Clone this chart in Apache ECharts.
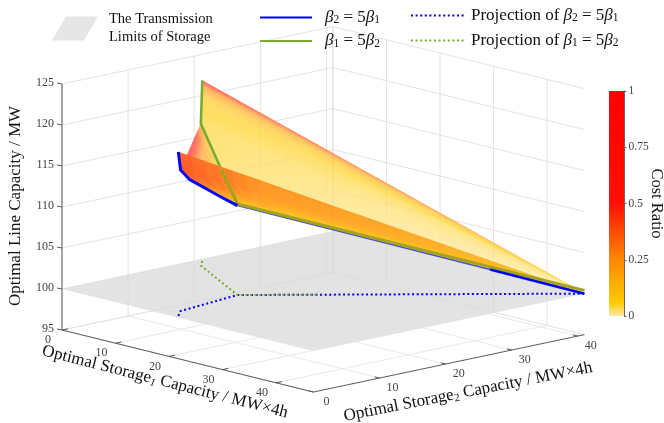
<!DOCTYPE html>
<html><head><meta charset="utf-8">
<style>html,body{margin:0;padding:0;background:#fff}#c{width:664px;height:423px}</style>
<script src="https://cdn.jsdelivr.net/npm/echarts@6/dist/echarts.min.js"></script>
</head><body><div id="c"></div>
<script>
// ---------- data (Storage1 MW·4h, Storage2 MW·4h, Line capacity MW) ----------
const s1Ticks=[0,10,20,30,40], s2Ticks=[0,10,20,30,40], zTicks=[95,100,105,110,115,120,125];
const s1Max=47, s2Max=41, planeZ=100, zMin=95, zMax=125;
const costTicks=[0,0.25,0.5,0.75,1];
const colormap=[[0,'#ffe9a8'],[0.06,'#ffcb00'],[0.25,'#ff8800'],[0.38,'#ff4a00'],[0.5,'#ff1000'],[1,'#ff0000']];

const bluePath=[[21.05,0.56,120],[19.2,2.4,117.2],[18.94,4.0,115.7],[18.57,6.3,114.35],[18.1,9.2,112.66],[17.6,12.3,110.9]];
const blueMiddle=[[17.6,12.3,110.9],[39,33.2,103]];
const blueEnd=[[39,33.2,103],[47,41,100]];
const greenPath=[[0.7,20.66,122],[2.48,19,117.3],[10.95,15.25,113.7]];
const greenHidden=[[10.95,15.25,113.7],[17.6,12.3,111.1],[47,41,100.4]];
const blueProj=[[21.05,0.56],[19.2,2.4],[17.6,12.3],[47,41]];
const greenProj=[[0.7,20.66],[2.48,19],[17.6,12.3],[24.4,19.0]];

const surfaceStations=[0,0.2,0.5,0.8,1];
const upperBase=[[0.7,20.66,122],[0.91,20.46,121.44],[1.23,20.16,120.59],[1.59,19.83,119.65],[2.48,19,117.3],[10.04,15.65,114.1],[17.6,12.3,110.9]];
const upperCost=[[.55,.45,.35,.25,.13],[.28,.22,.17,.12,.07],[.12,.1,.09,.07,.04],[.07,.06,.05,.04,.03],[.05,.04,.03,.025,.02],[.04,.03,.02,.015,.01],[.03,.02,.012,.01,.005]];
const middleBase=[[2.48,19,117.3],[6.66,14.85,117.28],[10.84,10.7,117.25],[19.2,2.4,117.2]];
const middleCost=[[.2,.1,.06,.05,.03],[.5,.22,.1,.06,.03],[.6,.25,.12,.06,.03],[.6,.3,.14,.07,.03]];
const lowerBase=[[21.05,0.56,120],[19.2,2.4,117.2],[18.94,4.0,115.7],[18.57,6.3,114.35],[18.1,9.2,112.66],[17.6,12.3,110.9]];
const lowerCost=[[.38,.27,.22,.16,.07],[.42,.25,.2,.14,.06],[.37,.21,.17,.12,.05],[.28,.17,.14,.1,.045],[.18,.12,.1,.08,.04],[.06,.06,.05,.04,.02]];
const surfaceTip=[47,41,100];
const middleTip=[17.6,12.3,110.9];

// ---------- fixed 3-D view of the chart box ----------
const view={x0:62,y0:330,s1x:5.35,s1y:1.32,s2x:6.61,s2y:-1.40,zy:8.2};
function project(p){
  const z=p.length>2?p[2]:planeZ;
  return [view.x0+view.s1x*p[0]+view.s2x*p[1], view.y0+view.s1y*p[0]+view.s2y*p[1]-view.zy*(z-zMin)];
}
function hex(c){return [1,3,5].map(k=>parseInt(c.substr(k,2),16));}
function costColor(c,alpha){
  let a=colormap[0],b=colormap[colormap.length-1];
  for(let k=0;k<colormap.length-1;k++){if(c>=colormap[k][0]&&c<=colormap[k+1][0]){a=colormap[k];b=colormap[k+1];break;}}
  const f=(c-a[0])/((b[0]-a[0])||1),A=hex(a[1]),B=hex(b[1]);
  const m=A.map((v,k)=>Math.round((v+(B[k]-v)*f)*alpha+255*(1-alpha)));
  return 'rgb('+m.join(',')+')';
}
const FONT='"Liberation Serif","Times New Roman",serif';
const GRID='#eaeaea', AXIS='#5a5a5a', TICKTXT='#444';

function surfaceSeries(name,base,cost,tip,alpha,z){
  const cells=[];
  for(let i=0;i<base.length-1;i++)for(let j=0;j<surfaceStations.length-1;j++)cells.push([i,j]);
  const N=6;
  return {type:'custom',name:name,coordinateSystem:'cartesian2d',z:z,silent:true,animation:false,clip:false,data:cells,
    renderItem(params,api){
      const i=api.value(0),j=api.value(1);
      const t0=surfaceStations[j],t1=surfaceStations[j+1];
      const a=project(base[i]),b=project(base[i+1]),e=project(tip);
      const pt=(u,v)=>{const t=t0+(t1-t0)*v;
        const x=(a[0]+(b[0]-a[0])*u),y=(a[1]+(b[1]-a[1])*u);
        return api.coord([x+(e[0]-x)*t,y+(e[1]-y)*t]);};
      const cv=(u,v)=>{const c0=cost[i][j]+(cost[i+1][j]-cost[i][j])*u,c1=cost[i][j+1]+(cost[i+1][j+1]-cost[i][j+1])*u;return c0+(c1-c0)*v;};
      const ch=[];
      for(let m=0;m<N;m++)for(let n=0;n<N;n++){
        const col=costColor(cv((m+.5)/N,(n+.5)/N),alpha);
        ch.push({type:'polygon',shape:{points:[pt(m/N,n/N),pt((m+1)/N,n/N),pt((m+1)/N,(n+1)/N),pt(m/N,(n+1)/N)]},style:{fill:col,stroke:col,lineWidth:0.6}});
      }
      return {type:'group',children:ch};
    }};
}
function lineSeries(name,pts,color,width,type,z){
  return {type:'line',name:name,coordinateSystem:'cartesian2d',data:pts.map(project),symbol:'none',smooth:false,animation:false,silent:true,clip:false,z:z,
    itemStyle:{color:color},lineStyle:{color:color,width:width,type:type,cap:'butt',join:'round'}};
}
function seg(api,p,q,color,w){
  const A=api.coord(p),B=api.coord(q);
  return {type:'line',shape:{x1:A[0],y1:A[1],x2:B[0],y2:B[1]},style:{stroke:color,lineWidth:w}};
}
function label(x,y,text,align){
  return {type:'text',x:x,y:y,style:{text:text,fontFamily:FONT,fontSize:12,fill:TICKTXT,align:align||'center',verticalAlign:'middle'}};
}
function wallLines(api,color){
  const ch=[],g=(a,b)=>ch.push(seg(api,project(a),project(b),color,1));
  zTicks.forEach(z=>{g([0,0,z],[0,s2Max,z]);g([0,s2Max,z],[s1Max,s2Max,z]);});
  s2Ticks.forEach(s=>g([0,s,zMin],[0,s,zMax]));
  s1Ticks.forEach(s=>g([s,s2Max,zMin],[s,s2Max,zMax]));
  g([0,s2Max,zMin],[0,s2Max,zMax]);
  return ch;
}
const BLACK='#111';
const boxSeries={type:'custom',name:'box',coordinateSystem:'cartesian2d',z:0,silent:true,animation:false,clip:false,data:[[0,0]],
  renderItem(params,api){
    const ch=wallLines(api,GRID),P=p=>project(p);
    const g=(a,b)=>ch.push(seg(api,P(a),P(b),GRID,1));
    s2Ticks.forEach(s=>g([0,s,zMin],[s1Max,s,zMin]));
    s1Ticks.forEach(s=>g([s,0,zMin],[s,s2Max,zMin]));
    // plane of the transmission limits
    ch.push({type:'polygon',shape:{points:[[0,0],[s1Max,0],[s1Max,s2Max],[0,s2Max]].map(p=>api.coord(P([p[0],p[1],planeZ])))},style:{fill:'#e2e2e2',opacity:0.95}});
    // axes
    ch.push(seg(api,P([0,0,zMin]),P([0,0,zMax]),AXIS,1));
    ch.push(seg(api,P([0,0,zMin]),P([s1Max,0,zMin]),AXIS,1));
    ch.push(seg(api,P([s1Max,0,zMin]),P([s1Max,s2Max,zMin]),AXIS,1));
    zTicks.forEach(z=>{const a=P([0,0,z]);ch.push(seg(api,a,[a[0]-5,a[1]-1],AXIS,1));
      const c=api.coord(a);ch.push(label(c[0]-8,c[1]-1,String(z),'right'));});
    s1Ticks.forEach(s=>{const a=P([s,0,zMin]);ch.push(seg(api,a,P([s,0.9,zMin]),AXIS,1));
      const c=api.coord(a);ch.push(label(c[0]-14,c[1]+10,String(s)));});
    s2Ticks.forEach(s=>{const a=P([s1Max,s,zMin]);ch.push(seg(api,a,P([s1Max-0.9,s,zMin]),AXIS,1));
      const c=api.coord(a);ch.push(label(c[0]+13,c[1]+10,String(s)));});
    // axis titles
    const rich={sub:{fontFamily:FONT,fontSize:11,fill:BLACK,color:BLACK,verticalAlign:'bottom',lineHeight:12},subi:{fontFamily:FONT,fontSize:11,fontStyle:'italic',fill:BLACK,color:BLACK,verticalAlign:'bottom',lineHeight:12}};
    const t=(x,y,rot,text)=>ch.push({type:'text',x:x,y:y,rotation:rot,style:{text:text,rich:rich,fontFamily:FONT,fontSize:17,lineHeight:19,fill:BLACK,align:'center',verticalAlign:'middle'}});
    t(16,206,Math.PI/2,'Optimal Line Capacity / MW');
    t(165,382,-0.25,'Optimal Storage{subi|1} Capacity / MW×4h');
    t(468,392,0.195,'Optimal Storage{sub|2} Capacity / MW×4h');
    return {type:'group',children:ch};
  }};
const gridThrough={type:'custom',name:'gridThrough',coordinateSystem:'cartesian2d',z:7.5,silent:true,animation:false,clip:false,data:[[0,0]],
  renderItem(params,api){return {type:'group',children:wallLines(api,'rgba(110,110,110,0.05)')};}};

const PLANE='The Transmission Limits of Storage', B21='beta2', B12='beta1', PB21='proj2', PB12='proj1';
const BLUE='#0000ff', GREEN='#77ac30', OLIVE='#a3a31c';
const richLegend={
  i:{fontFamily:FONT,fontSize:17,fontStyle:'italic',color:BLACK,lineHeight:17},
  n:{fontFamily:FONT,fontSize:17,color:BLACK,lineHeight:17},
  s:{fontFamily:FONT,fontSize:11.5,color:BLACK,verticalAlign:'bottom',lineHeight:12}
};
const betaEq=(a,b)=>'{i|β}{s|'+a+'}{n| = 5}{i|β}{s|'+b+'}';
const legendText={};
legendText[B21]=betaEq(2,1);
legendText[B12]=betaEq(1,2);
legendText[PB21]='{n|Projection of }'+betaEq(2,1);
legendText[PB12]='{n|Projection of }'+betaEq(1,2);
const legendFmt=n=>legendText[n]||n;
const hideMarker={opacity:0};

const option={
  animation:false,backgroundColor:'#fff',
  grid:[{left:0,right:0,top:0,bottom:0,containLabel:false,outerBoundsMode:'none'},{left:609,top:91,width:15,height:225,containLabel:false,outerBoundsMode:'none'}],
  xAxis:[{type:'value',min:0,max:664,show:false,gridIndex:0},{type:'category',data:['cost'],show:false,gridIndex:1}],
  yAxis:[{type:'value',min:0,max:423,inverse:true,show:false,gridIndex:0},
    {type:'value',gridIndex:1,min:0,max:1,interval:0.25,position:'right',
     axisLine:{show:true,lineStyle:{color:'#666'}},axisTick:{show:true,length:2.5,lineStyle:{color:'#666'}},splitLine:{show:false},
     axisLabel:{fontFamily:FONT,fontSize:11.5,color:TICKTXT,margin:4.5,showMinLabel:true,showMaxLabel:true},
     name:'Cost Ratio',nameLocation:'middle',nameRotate:-90,nameGap:24,nameMoveOverlap:false,nameTextStyle:{fontFamily:FONT,fontSize:16.5,color:BLACK}}],
  legend:[
    {left:52,top:10.5,padding:0,itemWidth:46,itemHeight:24,itemGap:0,selectedMode:false,data:[{name:PLANE,icon:'path://M14 0L46 0L32 24L0 24Z',itemStyle:{color:'#e6e6e6'}}],
      formatter:()=>'The Transmission\nLimits of Storage',textStyle:{fontFamily:FONT,fontSize:14.5,lineHeight:18,color:BLACK,padding:[0,0,0,6]}},
    {left:259,top:9,padding:0,orient:'vertical',itemWidth:52,itemHeight:14,itemGap:6.5,selectedMode:false,
      data:[{name:B21,itemStyle:hideMarker},{name:B12,itemStyle:hideMarker}],formatter:legendFmt,
      textStyle:{rich:richLegend,padding:[0,0,0,8]}},
    {left:410,top:7,padding:0,orient:'vertical',itemWidth:53,itemHeight:14,itemGap:8,selectedMode:false,
      data:[{name:PB21,itemStyle:hideMarker},{name:PB12,itemStyle:hideMarker}],formatter:legendFmt,
      textStyle:{rich:richLegend,padding:[0,0,0,2]}}
  ],
  series:[
    boxSeries,
    {type:'custom',name:PLANE,coordinateSystem:'cartesian2d',data:[],renderItem(){return null;},itemStyle:{color:'#e6e6e6'},silent:true},
    lineSeries(PB21,blueProj,BLUE,2,[2,2.6],2),
    lineSeries(PB12,greenProj,GREEN,2,[2,2.6],3),
    surfaceSeries('upper',upperBase,upperCost,surfaceTip,0.62,4),
    surfaceSeries('middle',middleBase,middleCost,middleTip,0.62,5),
    lineSeries(B12,greenPath,GREEN,2.6,'solid',6),
    surfaceSeries('lower',lowerBase,lowerCost,surfaceTip,0.85,7),
    gridThrough,
    lineSeries(B21,bluePath,BLUE,3,'solid',9),
    lineSeries('blueMid',blueMiddle,'#4450d8',1.5,'solid',8),
    lineSeries(B21,blueEnd,BLUE,2.6,'solid',9),
    lineSeries('greenHidden',greenHidden,OLIVE,3,'solid',8.5),
    {type:'bar',name:'Cost Ratio',xAxisIndex:1,yAxisIndex:1,data:[1],barWidth:'100%',silent:true,animation:false,
     itemStyle:{color:new echarts.graphic.LinearGradient(0,1,0,0,colormap.map(s=>({offset:s[0],color:s[1]})))}}
  ]
};
echarts.init(document.getElementById('c'),null,{renderer:'canvas'}).setOption(option);
</script></body></html>
